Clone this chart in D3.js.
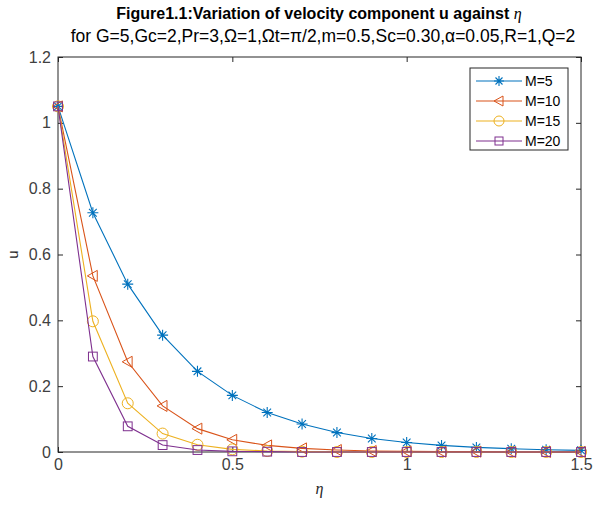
<!DOCTYPE html>
<html>
<head>
<meta charset="utf-8">
<script src="https://cdn.jsdelivr.net/npm/d3@7"></script>
<style>
  body { margin: 0; background: #fff; }
  svg { display: block; font-family: "Liberation Sans", Arial, sans-serif; }
  .tick text { font-size: 16px; }
</style>
</head>
<body>
<div id="chart"></div>
<script>
// Chart values
let eta = [0, 0.1, 0.2, 0.3, 0.4, 0.5, 0.6, 0.7, 0.8, 0.9, 1.0, 1.1, 1.2, 1.3, 1.4, 1.5];
let uM5  = [1.05, 0.727, 0.51, 0.355, 0.245, 0.172, 0.12, 0.085, 0.059, 0.041, 0.029, 0.02, 0.014, 0.01, 0.007, 0.005];
let uM10 = [1.05, 0.535, 0.274, 0.14, 0.071, 0.037, 0.02, 0.011, 0.006, 0.003, 0.002, 0.001, 0.001, 0, 0, 0];
let uM15 = [1.05, 0.397, 0.148, 0.056, 0.022, 0.008, 0.003, 0.001, 0, 0, 0, 0, 0, 0, 0, 0];
let uM20 = [1.05, 0.29, 0.078, 0.021, 0.006, 0.002, 0.001, 0, 0, 0, 0, 0, 0, 0, 0, 0];
let seriesNames = ["M=5", "M=10", "M=15", "M=20"];
let xTicks = [0, 0.5, 1, 1.5];
let yTicks = [0, 0.2, 0.4, 0.6, 0.8, 1, 1.2];

let width = 597;
let height = 507;
let margin = {top: 57, bottom: 55, left: 58, right: 16};

let series = [
    {name: seriesNames[0], values: uM5, color: "#0072BD", marker: "star"},
    {name: seriesNames[1], values: uM10, color: "#D95319", marker: "triangle"},
    {name: seriesNames[2], values: uM15, color: "#EDB120", marker: "circle"},
    {name: seriesNames[3], values: uM20, color: "#7E2F8E", marker: "square"}
];

let svg = d3.select('#chart')
    .append('svg')
    .attr('width', width)
    .attr('height', height);

let x = d3.scaleLinear()
    .domain([0, 1.5])
    .range([margin.left, width - margin.right]);

let y = d3.scaleLinear()
    .domain([0, 1.2])
    .range([height - margin.bottom, margin.top]);

// axes, MATLAB style: ticks inward, box on all sides
let axisColor = "#262626";
function styleAxis(g) {
    g.attr('font-size', 16).attr('font-family', '"Liberation Sans", Arial, sans-serif');
    g.select('.domain').remove();
    g.selectAll('.tick line').attr('stroke', axisColor);
    g.selectAll('.tick text')
        .attr('fill', '#404040')
        .attr('font-size', 16);
}

svg.append('g')
    .attr('transform', `translate(0, ${height - margin.bottom})`)
    .call(d3.axisBottom(x).tickValues(xTicks).tickFormat(d3.format('')).tickSize(-5).tickPadding(7))
    .call(styleAxis);

svg.append('g')
    .attr('transform', `translate(0, ${margin.top})`)
    .call(d3.axisTop(x).tickValues(xTicks).tickFormat('').tickSize(-5))
    .call(styleAxis);

svg.append('g')
    .attr('transform', `translate(${margin.left}, 0)`)
    .call(d3.axisLeft(y).tickValues(yTicks).tickFormat(d3.format('')).tickSize(-5).tickPadding(7))
    .call(styleAxis);

svg.append('g')
    .attr('transform', `translate(${width - margin.right}, 0)`)
    .call(d3.axisRight(y).tickValues(yTicks).tickFormat('').tickSize(-5))
    .call(styleAxis);

svg.append('rect')
    .attr('x', margin.left)
    .attr('y', margin.top)
    .attr('width', width - margin.left - margin.right)
    .attr('height', height - margin.top - margin.bottom)
    .attr('fill', 'none')
    .attr('stroke', axisColor)
    .attr('stroke-width', 1);

// marker drawing
function drawMarker(g, type, color, size) {
    let s = size;
    if (type === "star") {
        g.append('path')
            .attr('d', `M${-s},0H${s}M0,${-s}V${s}M${-s*0.7},${-s*0.7}L${s*0.7},${s*0.7}M${-s*0.7},${s*0.7}L${s*0.7},${-s*0.7}`)
            .attr('stroke', color).attr('stroke-width', 1.1).attr('fill', 'none');
    } else if (type === "triangle") {
        g.append('path')
            .attr('d', `M${-s},0L${s*0.8},${-s}L${s*0.8},${s}Z`)
            .attr('stroke', color).attr('fill', 'none');
    } else if (type === "circle") {
        g.append('circle').attr('r', s)
            .attr('stroke', color).attr('fill', 'none');
    } else {
        g.append('rect')
            .attr('x', -s * 0.8).attr('y', -s * 0.8)
            .attr('width', s * 1.6).attr('height', s * 1.6)
            .attr('stroke', color).attr('fill', 'none');
    }
}

let line = d3.line()
    .x((d, i) => x(eta[i]))
    .y(d => y(d));

series.forEach(s => {
    svg.append('path')
        .datum(s.values)
        .attr('d', line)
        .attr('fill', 'none')
        .attr('stroke', s.color)
        .attr('stroke-width', 1.1);

    s.values.forEach((v, i) => {
        let g = svg.append('g')
            .attr('transform', `translate(${x(eta[i])}, ${y(v)})`);
        drawMarker(g, s.marker, s.color, 5.5);
    });
});

// legend
let legend = svg.append('g').attr('transform', 'translate(470, 68)');
legend.append('rect')
    .attr('width', 98)
    .attr('height', 82)
    .attr('fill', '#fff')
    .attr('stroke', axisColor);

series.forEach((s, i) => {
    let ly = 13 + i * 20;
    legend.append('line')
        .attr('x1', 6).attr('x2', 52)
        .attr('y1', ly).attr('y2', ly)
        .attr('stroke', s.color).attr('stroke-width', 1.1);
    let g = legend.append('g').attr('transform', `translate(29, ${ly})`);
    drawMarker(g, s.marker, s.color, 5);
    legend.append('text')
        .attr('x', 55).attr('y', ly + 5)
        .style('font-size', '14px')
        .attr('fill', '#000')
        .text(s.name);
});

// titles
svg.append('text')
    .attr('x', 319).attr('y', 19)
    .attr('text-anchor', 'middle')
    .style('font-size', '16px')
    .style('font-weight', 'bold')
    .attr('fill', '#000')
    .html('Figure1.1:Variation of velocity component u against <tspan font-family="Liberation Serif, Times New Roman, serif" font-style="italic" font-weight="normal">η</tspan>');

svg.append('text')
    .attr('x', 323).attr('y', 42)
    .attr('text-anchor', 'middle')
    .style('font-size', '17.5px')
    .attr('fill', '#000')
    .text('for G=5,Gc=2,Pr=3,Ω=1,Ωt=π/2,m=0.5,Sc=0.30,α=0.05,R=1,Q=2');

// axis labels
svg.append('text')
    .attr('transform', `translate(18, ${(margin.top + height - margin.bottom) / 2}) rotate(-90)`)
    .attr('text-anchor', 'middle')
    .style('font-size', '15px')
    .attr('fill', '#262626')
    .text('u');

svg.append('text')
    .attr('x', (margin.left + width - margin.right) / 2)
    .attr('y', 494)
    .attr('text-anchor', 'middle')
    .style('font-size', '16px')
    .style('font-style', 'italic')
    .style('font-family', '"Liberation Serif", "Times New Roman", serif')
    .attr('fill', '#262626')
    .text('η');
</script>
</body>
</html>
